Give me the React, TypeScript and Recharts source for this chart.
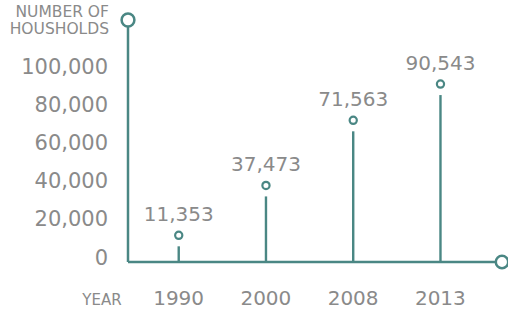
import React from 'react';
import { BarChart, Bar, XAxis, YAxis, LabelList, Label } from 'recharts';

const years = ['1990', '2000', '2008', '2013'];
const households = [11353, 37473, 71563, 90543];
const yTicks = [0, 20000, 40000, 60000, 80000, 100000];

const data = years.map((year, i) => ({ year, households: households[i] }));

const TEAL = '#4a8784';
const GRAY = '#8a8a8a';
const FONT = '"DejaVu Sans", sans-serif';
const WEIGHT = 'normal';
const fmt = (v: number) => v.toLocaleString('en-US');

const YTick = (props: any) => {
  const { x, y, payload } = props;
  return (
    <text x={x - 20} y={y} dy="0.36em" textAnchor="end" fill={GRAY} fontSize={21} fontFamily={FONT} fontWeight={WEIGHT}>
      {fmt(payload.value)}
    </text>
  );
};

const XTick = (props: any) => {
  const { x, y, payload } = props;
  return (
    <text x={x} y={y + 43} textAnchor="middle" fill={GRAY} fontSize={20} fontFamily={FONT} fontWeight={WEIGHT}>
      {payload.value}
    </text>
  );
};

const Lollipop = (props: any) => {
  const { x, y, width, background } = props;
  const cx = x + width / 2;
  const bottom = background ? background.y + background.height : y + props.height;
  return (
    <g>
      <line x1={cx} x2={cx} y1={y + 11} y2={bottom} stroke={TEAL} strokeWidth={2.4} />
      <circle cx={cx} cy={y} r={3.6} fill="#fff" stroke={TEAL} strokeWidth={2.2} />
    </g>
  );
};

const YAxisDecor = (props: any) => {
  const vb = props.viewBox || {};
  const ax = vb.x + vb.width;
  const top = vb.y;
  return (
    <g>
      <text x={ax - 19} y={top - 3} textAnchor="end" fill={GRAY} fontSize={15.5} fontFamily={FONT} fontWeight={WEIGHT}>
        NUMBER OF
      </text>
      <text x={ax - 19} y={top + 14} textAnchor="end" fill={GRAY} fontSize={15.5} fontFamily={FONT} fontWeight={WEIGHT}>
        HOUSHOLDS
      </text>
      <circle cx={ax} cy={top} r={6.4} fill="#fff" stroke={TEAL} strokeWidth={2.5} />
    </g>
  );
};

const XAxisDecor = (props: any) => {
  const vb = props.viewBox || {};
  const right = vb.x + vb.width;
  const ay = vb.y;
  return (
    <g>
      <text x={vb.x - 26} y={ay + 43} textAnchor="middle" fill={GRAY} fontSize={15} fontFamily={FONT} fontWeight={WEIGHT}>
        YEAR
      </text>
      <circle cx={right} cy={ay} r={6.2} fill="#fff" stroke={TEAL} strokeWidth={2.5} />
    </g>
  );
};

export default function App() {
  return (
    <div style={{ position: 'absolute', left: 0, top: 0, width: 508, height: 311, background: '#fff' }}>
      <BarChart width={508} height={311} data={data} margin={{ top: 20, right: 6, left: 0, bottom: 0 }}>
        <XAxis
          dataKey="year"
          height={49}
          padding={{ left: 7, right: 18 }}
          axisLine={{ stroke: TEAL, strokeWidth: 2.5 }}
          tickLine={false}
          tickSize={0}
          tickMargin={0}
          tick={<XTick />}
          interval={0}
        >
          <Label content={<XAxisDecor />} />
        </XAxis>
        <YAxis
          width={128}
          domain={[-2618, 124084]}
          ticks={yTicks}
          allowDataOverflow
          axisLine={{ stroke: TEAL, strokeWidth: 2.5 }}
          tickLine={false}
          tickSize={0}
          tickMargin={0}
          tick={<YTick />}
        >
          <Label content={<YAxisDecor />} />
        </YAxis>
        <Bar dataKey="households" shape={<Lollipop />} isAnimationActive={false}>
          <LabelList
            dataKey="households"
            position="top"
            offset={14}
            formatter={(v: any) => fmt(Number(v))}
            fill={GRAY}
            fontSize={20}
            fontFamily={FONT}
            fontWeight={WEIGHT}
          />
        </Bar>
      </BarChart>
    </div>
  );
}
